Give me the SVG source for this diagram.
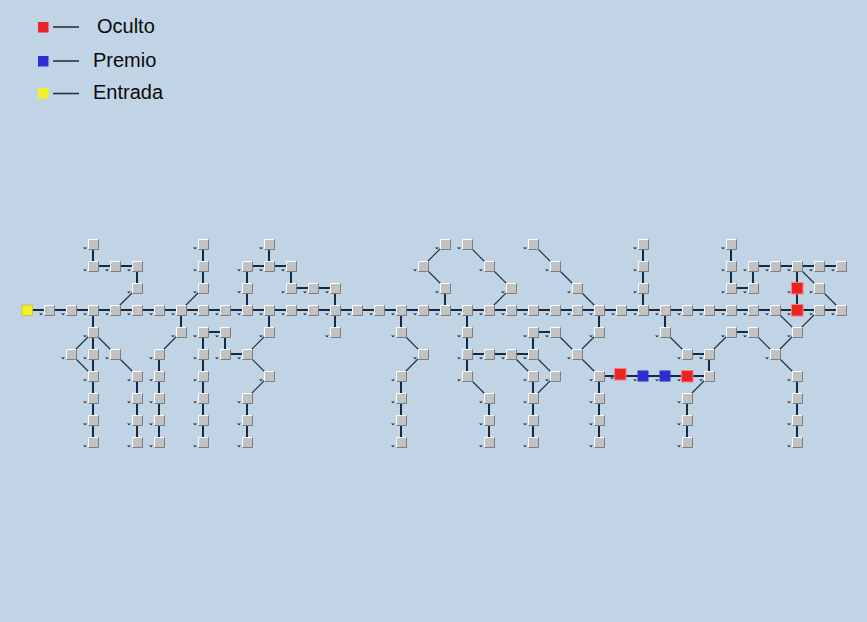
<svg xmlns="http://www.w3.org/2000/svg" xmlns:xlink="http://www.w3.org/1999/xlink" width="867" height="622" viewBox="0 0 867 622">
<style>
.bg{fill:#c1d4e5}
.st{fill:none;stroke:#142b46;stroke-width:2}
.dg{fill:none;stroke:#142b46;stroke-width:1.1}
.lg{stroke:#1c2a3a;stroke-width:1.5}
.tx{font-family:"Liberation Sans",Arial,sans-serif;font-size:20px;fill:#0a0a0a}
.red{fill:#ea2424;stroke:#ff7a7a;stroke-width:1}
.blue{fill:#2c2ed2}
.yel{fill:#f2f02a;stroke:#c8c020;stroke-width:0.8}
</style>
<defs>
<g id="tk"><path d="M-10 3.5h4l-2 1.8z" fill="#1a2a40"/></g>
<g id="nd">
<rect x="-5" y="-5" width="10.5" height="10.5" fill="#c2c2c2"/>
<path d="M-4.5 5V-4.5H5" fill="none" stroke="#ffffff" stroke-width="1"/>
<path d="M5.5 -4.5V5.5H-4.5" fill="none" stroke="#7e7e7e" stroke-width="1"/>
<use href="#tk"/>
</g>
<g id="rn"><rect x="-5.5" y="-5.5" width="11.5" height="11.5" class="red"/><use href="#tk"/></g>
<g id="bn"><rect x="-5.5" y="-5.5" width="11" height="11" class="blue"/><use href="#tk"/></g>
<g id="yn"><rect x="-5" y="-5" width="10.5" height="10.5" class="yel"/></g>
</defs>
<rect class="bg" x="0" y="0" width="867" height="622"/>
<g id="legend">
<rect x="38" y="22" width="10.5" height="10.5" fill="#ea2424"/>
<line class="lg" x1="53" y1="27" x2="79" y2="27"/>
<text class="tx" x="97" y="33">Oculto</text>
<rect x="38" y="56" width="10.5" height="10.5" fill="#2c2ed2"/>
<line class="lg" x1="53" y1="61" x2="79" y2="61"/>
<text class="tx" x="93" y="67">Premio</text>
<rect x="38" y="88" width="10.5" height="10.5" fill="#f2f02a"/>
<line class="lg" x1="53" y1="93.5" x2="79" y2="93.5"/>
<text class="tx" x="93" y="99">Entrada</text>
</g>
<g id="connectors">
<path class="st" d="M27 310H841 M93 244V266H137V288 M203 244V288 M269 244V266 M247 266H291V288H335V310 M247 266V310 M445 288V310 M643 244V310 M731 244V288H753V266H841 M797 266V310 M93 310V442 M137 376V442 M159 354V442 M181 310V332 M203 332V442 M203 332H225V354H247 M247 398V442 M269 310V332 M335 310V332 M401 310V332 M401 376V442 M467 310V376 M467 354H533V332H555 M489 398V442 M533 376V442 M599 310V332 M599 376V442 M599 376H709 M665 310V332 M687 354H709V376 M687 398V442 M731 332H753 M797 376V442"/>
<path class="dg" d="M137 288L115 310 M203 288L181 310 M93 332L71 354L93 376 M93 332L115 354L137 376 M181 332L159 354 M269 332L247 354L269 376L247 398 M401 332L423 354L401 376 M445 244L423 266L445 288 M467 244L489 266L511 288L489 310 M533 244L555 266L577 288L599 310 M467 376L489 398 M555 332L577 354L599 376 M599 332L577 354 M511 354L533 376 M533 354L555 376L533 398 M665 332L687 354 M709 354L731 332 M709 376L687 398 M797 266L819 288L841 310 M775 310L797 332L819 310 M797 332L775 354 M753 332L775 354L797 376"/>
</g>
<g id="nodes">
<g id="n3_m3"><use href="#nd" x="93" y="244"/></g>
<g id="n8_m3"><use href="#nd" x="203" y="244"/></g>
<g id="n11_m3"><use href="#nd" x="269" y="244"/></g>
<g id="n19_m3"><use href="#nd" x="445" y="244"/></g>
<g id="n20_m3"><use href="#nd" x="467" y="244"/></g>
<g id="n23_m3"><use href="#nd" x="533" y="244"/></g>
<g id="n28_m3"><use href="#nd" x="643" y="244"/></g>
<g id="n32_m3"><use href="#nd" x="731" y="244"/></g>
<g id="n3_m2"><use href="#nd" x="93" y="266"/></g>
<g id="n4_m2"><use href="#nd" x="115" y="266"/></g>
<g id="n5_m2"><use href="#nd" x="137" y="266"/></g>
<g id="n8_m2"><use href="#nd" x="203" y="266"/></g>
<g id="n10_m2"><use href="#nd" x="247" y="266"/></g>
<g id="n11_m2"><use href="#nd" x="269" y="266"/></g>
<g id="n12_m2"><use href="#nd" x="291" y="266"/></g>
<g id="n18_m2"><use href="#nd" x="423" y="266"/></g>
<g id="n21_m2"><use href="#nd" x="489" y="266"/></g>
<g id="n24_m2"><use href="#nd" x="555" y="266"/></g>
<g id="n28_m2"><use href="#nd" x="643" y="266"/></g>
<g id="n32_m2"><use href="#nd" x="731" y="266"/></g>
<g id="n33_m2"><use href="#nd" x="753" y="266"/></g>
<g id="n34_m2"><use href="#nd" x="775" y="266"/></g>
<g id="n35_m2"><use href="#nd" x="797" y="266"/></g>
<g id="n36_m2"><use href="#nd" x="819" y="266"/></g>
<g id="n37_m2"><use href="#nd" x="841" y="266"/></g>
<g id="n5_m1"><use href="#nd" x="137" y="288"/></g>
<g id="n8_m1"><use href="#nd" x="203" y="288"/></g>
<g id="n10_m1"><use href="#nd" x="247" y="288"/></g>
<g id="n12_m1"><use href="#nd" x="291" y="288"/></g>
<g id="n13_m1"><use href="#nd" x="313" y="288"/></g>
<g id="n14_m1"><use href="#nd" x="335" y="288"/></g>
<g id="n19_m1"><use href="#nd" x="445" y="288"/></g>
<g id="n22_m1"><use href="#nd" x="511" y="288"/></g>
<g id="n25_m1"><use href="#nd" x="577" y="288"/></g>
<g id="n28_m1"><use href="#nd" x="643" y="288"/></g>
<g id="n32_m1"><use href="#nd" x="731" y="288"/></g>
<g id="n33_m1"><use href="#nd" x="753" y="288"/></g>
<g id="n35_m1"><use href="#rn" x="797" y="288"/></g>
<g id="n36_m1"><use href="#nd" x="819" y="288"/></g>
<g id="n0_0"><use href="#yn" x="27" y="310"/></g>
<g id="n1_0"><use href="#nd" x="49" y="310"/></g>
<g id="n2_0"><use href="#nd" x="71" y="310"/></g>
<g id="n3_0"><use href="#nd" x="93" y="310"/></g>
<g id="n4_0"><use href="#nd" x="115" y="310"/></g>
<g id="n5_0"><use href="#nd" x="137" y="310"/></g>
<g id="n6_0"><use href="#nd" x="159" y="310"/></g>
<g id="n7_0"><use href="#nd" x="181" y="310"/></g>
<g id="n8_0"><use href="#nd" x="203" y="310"/></g>
<g id="n9_0"><use href="#nd" x="225" y="310"/></g>
<g id="n10_0"><use href="#nd" x="247" y="310"/></g>
<g id="n11_0"><use href="#nd" x="269" y="310"/></g>
<g id="n12_0"><use href="#nd" x="291" y="310"/></g>
<g id="n13_0"><use href="#nd" x="313" y="310"/></g>
<g id="n14_0"><use href="#nd" x="335" y="310"/></g>
<g id="n15_0"><use href="#nd" x="357" y="310"/></g>
<g id="n16_0"><use href="#nd" x="379" y="310"/></g>
<g id="n17_0"><use href="#nd" x="401" y="310"/></g>
<g id="n18_0"><use href="#nd" x="423" y="310"/></g>
<g id="n19_0"><use href="#nd" x="445" y="310"/></g>
<g id="n20_0"><use href="#nd" x="467" y="310"/></g>
<g id="n21_0"><use href="#nd" x="489" y="310"/></g>
<g id="n22_0"><use href="#nd" x="511" y="310"/></g>
<g id="n23_0"><use href="#nd" x="533" y="310"/></g>
<g id="n24_0"><use href="#nd" x="555" y="310"/></g>
<g id="n25_0"><use href="#nd" x="577" y="310"/></g>
<g id="n26_0"><use href="#nd" x="599" y="310"/></g>
<g id="n27_0"><use href="#nd" x="621" y="310"/></g>
<g id="n28_0"><use href="#nd" x="643" y="310"/></g>
<g id="n29_0"><use href="#nd" x="665" y="310"/></g>
<g id="n30_0"><use href="#nd" x="687" y="310"/></g>
<g id="n31_0"><use href="#nd" x="709" y="310"/></g>
<g id="n32_0"><use href="#nd" x="731" y="310"/></g>
<g id="n33_0"><use href="#nd" x="753" y="310"/></g>
<g id="n34_0"><use href="#nd" x="775" y="310"/></g>
<g id="n35_0"><use href="#rn" x="797" y="310"/></g>
<g id="n36_0"><use href="#nd" x="819" y="310"/></g>
<g id="n37_0"><use href="#nd" x="841" y="310"/></g>
<g id="n3_1"><use href="#nd" x="93" y="332"/></g>
<g id="n7_1"><use href="#nd" x="181" y="332"/></g>
<g id="n8_1"><use href="#nd" x="203" y="332"/></g>
<g id="n9_1"><use href="#nd" x="225" y="332"/></g>
<g id="n11_1"><use href="#nd" x="269" y="332"/></g>
<g id="n14_1"><use href="#nd" x="335" y="332"/></g>
<g id="n17_1"><use href="#nd" x="401" y="332"/></g>
<g id="n20_1"><use href="#nd" x="467" y="332"/></g>
<g id="n23_1"><use href="#nd" x="533" y="332"/></g>
<g id="n24_1"><use href="#nd" x="555" y="332"/></g>
<g id="n26_1"><use href="#nd" x="599" y="332"/></g>
<g id="n29_1"><use href="#nd" x="665" y="332"/></g>
<g id="n32_1"><use href="#nd" x="731" y="332"/></g>
<g id="n33_1"><use href="#nd" x="753" y="332"/></g>
<g id="n35_1"><use href="#nd" x="797" y="332"/></g>
<g id="n2_2"><use href="#nd" x="71" y="354"/></g>
<g id="n3_2"><use href="#nd" x="93" y="354"/></g>
<g id="n4_2"><use href="#nd" x="115" y="354"/></g>
<g id="n6_2"><use href="#nd" x="159" y="354"/></g>
<g id="n8_2"><use href="#nd" x="203" y="354"/></g>
<g id="n9_2"><use href="#nd" x="225" y="354"/></g>
<g id="n10_2"><use href="#nd" x="247" y="354"/></g>
<g id="n18_2"><use href="#nd" x="423" y="354"/></g>
<g id="n20_2"><use href="#nd" x="467" y="354"/></g>
<g id="n21_2"><use href="#nd" x="489" y="354"/></g>
<g id="n22_2"><use href="#nd" x="511" y="354"/></g>
<g id="n23_2"><use href="#nd" x="533" y="354"/></g>
<g id="n25_2"><use href="#nd" x="577" y="354"/></g>
<g id="n30_2"><use href="#nd" x="687" y="354"/></g>
<g id="n31_2"><use href="#nd" x="709" y="354"/></g>
<g id="n34_2"><use href="#nd" x="775" y="354"/></g>
<g id="n3_3"><use href="#nd" x="93" y="376"/></g>
<g id="n5_3"><use href="#nd" x="137" y="376"/></g>
<g id="n6_3"><use href="#nd" x="159" y="376"/></g>
<g id="n8_3"><use href="#nd" x="203" y="376"/></g>
<g id="n11_3"><use href="#nd" x="269" y="376"/></g>
<g id="n17_3"><use href="#nd" x="401" y="376"/></g>
<g id="n20_3"><use href="#nd" x="467" y="376"/></g>
<g id="n23_3"><use href="#nd" x="533" y="376"/></g>
<g id="n24_3"><use href="#nd" x="555" y="376"/></g>
<g id="n26_3"><use href="#nd" x="599" y="376"/></g>
<g id="n27_3"><use href="#rn" x="620" y="374"/></g>
<g id="n28_3"><use href="#bn" x="643" y="376"/></g>
<g id="n29_3"><use href="#bn" x="665" y="376"/></g>
<g id="n30_3"><use href="#rn" x="687" y="376"/></g>
<g id="n31_3"><use href="#nd" x="709" y="376"/></g>
<g id="n35_3"><use href="#nd" x="797" y="376"/></g>
<g id="n3_4"><use href="#nd" x="93" y="398"/></g>
<g id="n5_4"><use href="#nd" x="137" y="398"/></g>
<g id="n6_4"><use href="#nd" x="159" y="398"/></g>
<g id="n8_4"><use href="#nd" x="203" y="398"/></g>
<g id="n10_4"><use href="#nd" x="247" y="398"/></g>
<g id="n17_4"><use href="#nd" x="401" y="398"/></g>
<g id="n21_4"><use href="#nd" x="489" y="398"/></g>
<g id="n23_4"><use href="#nd" x="533" y="398"/></g>
<g id="n26_4"><use href="#nd" x="599" y="398"/></g>
<g id="n30_4"><use href="#nd" x="687" y="398"/></g>
<g id="n35_4"><use href="#nd" x="797" y="398"/></g>
<g id="n3_5"><use href="#nd" x="93" y="420"/></g>
<g id="n5_5"><use href="#nd" x="137" y="420"/></g>
<g id="n6_5"><use href="#nd" x="159" y="420"/></g>
<g id="n8_5"><use href="#nd" x="203" y="420"/></g>
<g id="n10_5"><use href="#nd" x="247" y="420"/></g>
<g id="n17_5"><use href="#nd" x="401" y="420"/></g>
<g id="n21_5"><use href="#nd" x="489" y="420"/></g>
<g id="n23_5"><use href="#nd" x="533" y="420"/></g>
<g id="n26_5"><use href="#nd" x="599" y="420"/></g>
<g id="n30_5"><use href="#nd" x="687" y="420"/></g>
<g id="n35_5"><use href="#nd" x="797" y="420"/></g>
<g id="n3_6"><use href="#nd" x="93" y="442"/></g>
<g id="n5_6"><use href="#nd" x="137" y="442"/></g>
<g id="n6_6"><use href="#nd" x="159" y="442"/></g>
<g id="n8_6"><use href="#nd" x="203" y="442"/></g>
<g id="n10_6"><use href="#nd" x="247" y="442"/></g>
<g id="n17_6"><use href="#nd" x="401" y="442"/></g>
<g id="n21_6"><use href="#nd" x="489" y="442"/></g>
<g id="n23_6"><use href="#nd" x="533" y="442"/></g>
<g id="n26_6"><use href="#nd" x="599" y="442"/></g>
<g id="n30_6"><use href="#nd" x="687" y="442"/></g>
<g id="n35_6"><use href="#nd" x="797" y="442"/></g>
</g>
</svg>
